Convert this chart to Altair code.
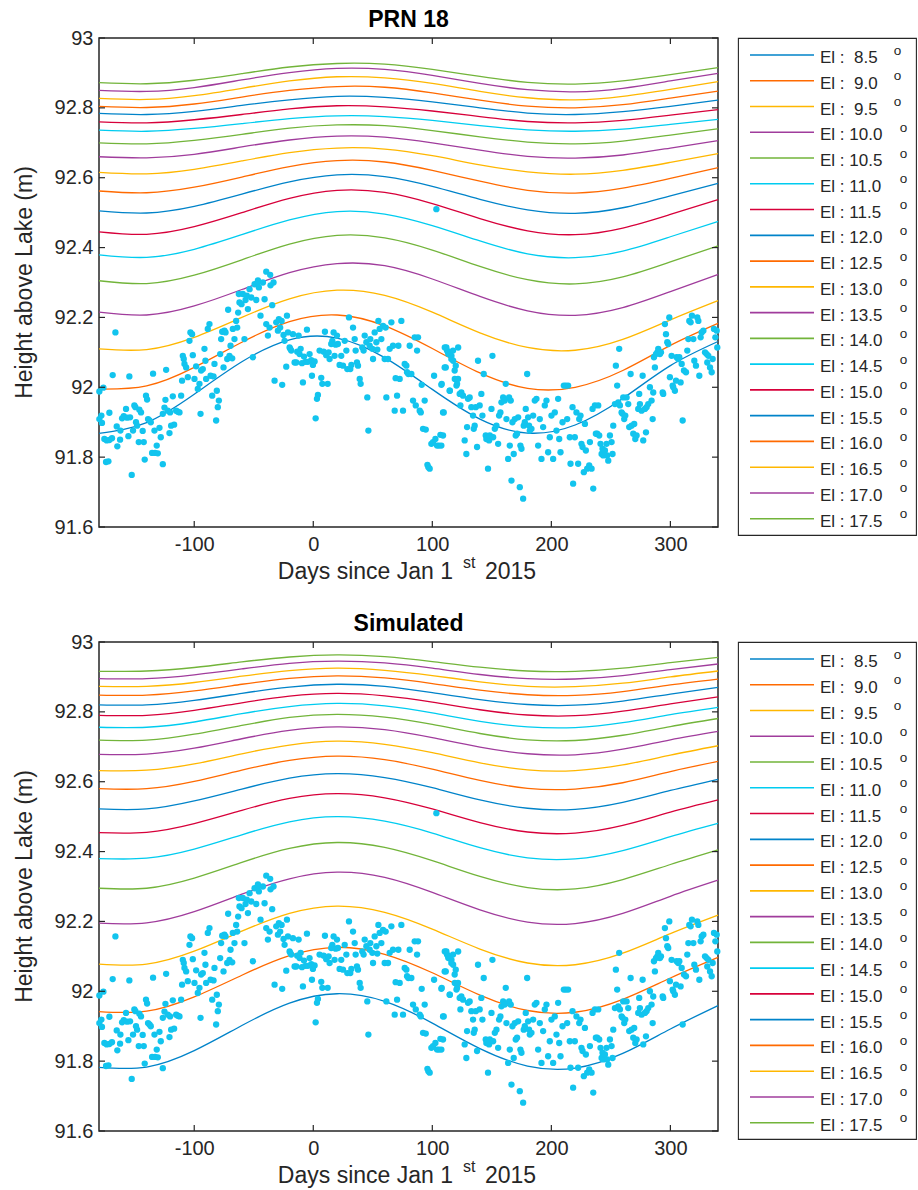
import altair as alt
import pandas as pd

# ---------------- data ----------------
DAYS = [-180, -140, -100, -60, -20, 20, 60, 100, 140, 180, 220, 260, 300, 340]
ELEVATIONS = [8.5, 9.0, 9.5, 10.0, 10.5, 11.0, 11.5, 12.0, 12.5, 13.0,
              13.5, 14.0, 14.5, 15.0, 15.5, 16.0, 16.5, 17.0, 17.5]
LINE_COLORS = ["#0083C9", "#FF6A00", "#FFB700", "#A03C9C", "#72B43A", "#00CCF0", "#D7003A",
               "#0083C9", "#FF6A00", "#FFB700", "#A03C9C", "#72B43A", "#00CCF0", "#D7003A",
               "#0083C9", "#FF6A00", "#FFB700", "#A03C9C", "#72B43A"]
X_TICKS = [-100, 0, 100, 200, 300]
Y_TICKS = [91.6, 91.8, 92.0, 92.2, 92.4, 92.6, 92.8, 93.0]

PRN18_HEIGHTS = [
    [91.868, 91.899, 91.980, 92.073, 92.136, 92.141, 92.085, 91.994, 91.909, 91.869, 91.892, 91.968, 92.062, 92.131],
    [91.995, 92.004, 92.057, 92.129, 92.188, 92.207, 92.176, 92.111, 92.041, 91.997, 92.000, 92.048, 92.120, 92.183],
    [92.110, 92.108, 92.143, 92.200, 92.253, 92.278, 92.263, 92.215, 92.156, 92.114, 92.106, 92.137, 92.193, 92.248],
    [92.215, 92.207, 92.233, 92.280, 92.328, 92.354, 92.348, 92.310, 92.260, 92.219, 92.206, 92.228, 92.274, 92.323],
    [92.305, 92.297, 92.321, 92.365, 92.410, 92.435, 92.428, 92.393, 92.346, 92.308, 92.296, 92.316, 92.359, 92.405],
    [92.379, 92.372, 92.395, 92.437, 92.479, 92.503, 92.496, 92.463, 92.419, 92.382, 92.371, 92.390, 92.431, 92.475],
    [92.445, 92.438, 92.460, 92.500, 92.541, 92.564, 92.558, 92.526, 92.483, 92.448, 92.437, 92.456, 92.495, 92.537],
    [92.505, 92.499, 92.518, 92.553, 92.588, 92.608, 92.603, 92.575, 92.538, 92.508, 92.498, 92.514, 92.548, 92.584],
    [92.562, 92.557, 92.573, 92.602, 92.632, 92.649, 92.645, 92.621, 92.590, 92.564, 92.556, 92.570, 92.598, 92.629],
    [92.615, 92.611, 92.624, 92.648, 92.672, 92.685, 92.682, 92.663, 92.637, 92.617, 92.610, 92.621, 92.644, 92.669],
    [92.660, 92.657, 92.667, 92.688, 92.708, 92.719, 92.716, 92.700, 92.679, 92.661, 92.656, 92.665, 92.685, 92.706],
    [92.700, 92.697, 92.707, 92.724, 92.742, 92.751, 92.749, 92.735, 92.717, 92.702, 92.697, 92.705, 92.722, 92.740],
    [92.736, 92.733, 92.741, 92.755, 92.769, 92.777, 92.775, 92.764, 92.749, 92.737, 92.733, 92.739, 92.753, 92.767],
    [92.760, 92.757, 92.766, 92.781, 92.797, 92.806, 92.803, 92.791, 92.775, 92.761, 92.757, 92.764, 92.779, 92.795],
    [92.784, 92.781, 92.790, 92.807, 92.823, 92.833, 92.830, 92.817, 92.800, 92.785, 92.781, 92.789, 92.804, 92.822],
    [92.804, 92.801, 92.811, 92.831, 92.850, 92.861, 92.859, 92.843, 92.822, 92.805, 92.800, 92.809, 92.828, 92.848],
    [92.827, 92.824, 92.835, 92.856, 92.877, 92.889, 92.886, 92.870, 92.847, 92.829, 92.823, 92.833, 92.853, 92.875],
    [92.850, 92.847, 92.858, 92.880, 92.901, 92.913, 92.910, 92.893, 92.870, 92.852, 92.846, 92.856, 92.877, 92.899],
    [92.872, 92.869, 92.879, 92.898, 92.917, 92.927, 92.925, 92.910, 92.890, 92.873, 92.868, 92.877, 92.895, 92.915],
]

SIM_HEIGHTS = [
    [91.782, 91.783, 91.830, 91.902, 91.966, 91.993, 91.971, 91.909, 91.836, 91.786, 91.780, 91.822, 91.892, 91.959],
    [91.942, 91.943, 91.984, 92.046, 92.102, 92.126, 92.106, 92.053, 91.989, 91.945, 91.940, 91.977, 92.038, 92.097],
    [92.078, 92.078, 92.115, 92.172, 92.223, 92.244, 92.226, 92.178, 92.121, 92.081, 92.076, 92.109, 92.165, 92.218],
    [92.195, 92.196, 92.228, 92.278, 92.322, 92.341, 92.326, 92.283, 92.233, 92.198, 92.194, 92.223, 92.272, 92.318],
    [92.295, 92.295, 92.324, 92.369, 92.409, 92.426, 92.412, 92.374, 92.329, 92.297, 92.293, 92.320, 92.363, 92.405],
    [92.380, 92.381, 92.407, 92.448, 92.485, 92.500, 92.487, 92.453, 92.411, 92.382, 92.379, 92.403, 92.443, 92.481],
    [92.454, 92.455, 92.480, 92.518, 92.552, 92.566, 92.554, 92.522, 92.483, 92.456, 92.453, 92.475, 92.513, 92.548],
    [92.522, 92.522, 92.545, 92.579, 92.610, 92.623, 92.612, 92.583, 92.548, 92.524, 92.521, 92.541, 92.575, 92.607],
    [92.580, 92.580, 92.601, 92.633, 92.661, 92.673, 92.663, 92.636, 92.604, 92.581, 92.579, 92.597, 92.629, 92.658],
    [92.632, 92.633, 92.651, 92.680, 92.705, 92.716, 92.707, 92.683, 92.654, 92.634, 92.632, 92.648, 92.676, 92.703],
    [92.678, 92.679, 92.696, 92.723, 92.747, 92.757, 92.749, 92.726, 92.699, 92.680, 92.677, 92.693, 92.720, 92.744],
    [92.719, 92.719, 92.736, 92.761, 92.784, 92.793, 92.785, 92.764, 92.738, 92.720, 92.718, 92.733, 92.758, 92.781],
    [92.756, 92.756, 92.771, 92.795, 92.815, 92.824, 92.817, 92.797, 92.773, 92.757, 92.755, 92.769, 92.792, 92.813],
    [92.790, 92.790, 92.804, 92.826, 92.845, 92.853, 92.846, 92.828, 92.806, 92.791, 92.789, 92.802, 92.823, 92.843],
    [92.820, 92.820, 92.833, 92.853, 92.871, 92.879, 92.873, 92.855, 92.835, 92.821, 92.819, 92.831, 92.851, 92.870],
    [92.848, 92.848, 92.860, 92.879, 92.896, 92.903, 92.897, 92.881, 92.862, 92.849, 92.847, 92.858, 92.877, 92.894],
    [92.873, 92.873, 92.884, 92.902, 92.918, 92.925, 92.919, 92.904, 92.886, 92.873, 92.872, 92.882, 92.900, 92.917],
    [92.895, 92.895, 92.906, 92.923, 92.939, 92.945, 92.940, 92.925, 92.907, 92.895, 92.894, 92.904, 92.921, 92.937],
    [92.916, 92.917, 92.927, 92.943, 92.957, 92.963, 92.958, 92.944, 92.928, 92.917, 92.916, 92.925, 92.941, 92.956],
]

OBS_DAYS = [
    -179.7, -176.3, -179.7, -178.0, -177.5, -175.5, -173.5, -171.3, -169.1, -174.1,
    -172.1, -171.3, -168.5, -166.2, -165.1, -164.6, -162.3, -162.0, -160.6, -159.2,
    -157.3, -156.4, -155.3, -154.5, -153.9, -152.5, -151.4, -150.3, -149.4, -148.9,
    -148.0, -146.6, -146.1, -144.7, -143.3, -142.4, -141.6, -140.5, -139.6, -138.8,
    -137.6, -136.5, -135.4, -134.6, -133.4, -132.9, -131.5, -130.6, -129.2, -128.1,
    -126.4, -126.4, -125.0, -124.2, -123.6, -122.2, -120.8, -120.3, -119.4, -118.0,
    -116.9, -115.2, -113.8, -112.4, -111.0, -110.2, -109.6, -108.8, -108.2, -106.8,
    -105.4, -104.0, -103.2, -101.8, -101.2, -99.8, -98.4, -97.0, -95.6, -94.7,
    -94.2, -92.8, -91.4, -90.6, -90.0, -88.6, -87.2, -86.3, -84.9, -83.8,
    -83.0, -81.6, -81.0, -80.2, -79.3, -78.2, -77.4, -76.5, -75.4, -74.6,
    -73.7, -72.3, -71.5, -70.4, -69.5, -68.1, -67.6, -66.2, -64.8, -63.9,
    -63.1, -62.5, -62.0, -60.3, -59.2, -57.8, -56.9, -55.8, -54.9, -53.5,
    -52.1, -50.7, -49.3, -47.9, -46.5, -45.7, -44.3, -42.3, -40.9, -39.5,
    -38.1, -36.7, -35.9, -34.5, -33.4, -32.5, -31.1, -29.7, -28.9, -27.8,
    -26.6, -26.1, -25.0, -24.1, -22.7, -22.1, -21.3, -19.9, -19.3, -18.5,
    -17.1, -15.7, -14.3, -13.5, -12.3, -11.5, -10.6, -9.5, -8.7, -7.8,
    -6.4, -5.3, -4.5, -3.1, -1.7, -1.1, -0.3, 1.1, 2.0, 3.1,
    3.9, 5.3, 6.7, 7.6, 8.7, 9.8, 10.9, 12.1, 12.9, 13.7,
    15.1, 16.0, 17.1, 17.9, 18.8, 19.9, 20.7, 22.1, 23.5, 25.0,
    26.4, 27.8, 28.6, 30.0, 31.1, 32.0, 33.4, 34.8, 35.6, 36.7,
    37.6, 39.0, 39.8, 41.2, 42.3, 43.2, 44.6, 45.4, 46.3, 47.4,
    47.9, 49.6, 50.2, 51.6, 53.0, 53.8, 54.7, 55.8, 57.2, 58.6,
    60.0, 60.8, 61.4, 62.8, 64.2, 65.6, 67.0, 68.4, 69.2, 70.4,
    71.5, 72.6, 74.0, 75.4, 76.8, 78.2, 78.8, 79.9, 81.0, 82.4,
    83.8, 85.2, 86.1, 87.2, 88.0, 89.4, 90.3, 91.1, 92.2, 93.6,
    94.5, 95.9, 96.7, 97.8, 99.2, 100.6, 101.5, 102.6, 104.0, 105.7,
    106.8, 107.9, 109.0, 110.5, 111.3, 112.4, 113.5, 114.7, 116.1, 117.5,
    118.9, 120.3, 121.7, -39.5, -36.2, -46.5, 103.4,
    107.6, 109.0, 107.6, 109.6, 110.4, 111.8, 113.2, 114.6, 116.0, 117.4,
    118.8, 119.7, 120.8, 121.6, 123.0, 123.6, 124.4, 125.8, 127.2, 128.6,
    129.2, 130.0, 131.4, 132.8, 134.2, 134.8, 135.6, 136.5, 137.6, 138.4,
    139.8, 141.2, 142.1, 143.2, 144.9, 145.4, 146.8, 147.7, 148.3, 149.7,
    150.5, 151.1, 152.5, 153.9, 155.3, 156.1, 157.2, 158.1, 159.5, 160.9,
    161.7, 162.3, 163.7, 164.5, 165.1, 165.9, 166.5, 167.3, 168.4, 169.3,
    170.1, 171.2, 172.1, 173.5, 174.0, 174.9, 176.3, 176.8, 177.7, 178.5,
    179.7, 180.5, 181.3, 181.9, 183.3, 184.7, 186.1, 187.5, 188.9, 190.3,
    191.7, 193.1, 194.5, 195.9, 197.3, 198.7, 200.1, 201.5, 202.9, 204.3,
    205.7, 206.6, 207.7, 209.4, 210.5, 212.2, 213.3, 214.1, 215.5, 216.1,
    217.8, 218.3, 219.7, 221.1, 222.5, 223.4, 224.5, 225.3, 226.2, 227.3,
    228.2, 229.0, 230.1, 231.8, 232.4, 233.8, 234.6, 235.2, 236.6, 237.4,
    238.5, 239.4, 240.2, 241.3, 242.2, 243.0, 243.6, 245.0, 246.4, 246.9,
    247.8, 249.2, 250.6, 251.4, 252.0, 253.4, 254.2, 255.3, 256.2, 257.0,
    257.6, 259.0, 259.8, 260.4, 261.2, 262.1, 263.2, 264.6, 265.4, 266.6,
    267.4, 268.8, 269.6, 270.5, 271.6, 273.0, 273.8, 274.4, 275.8, 276.7,
    277.2, 278.6, 279.5, 280.0, 281.4, 282.8, 284.2, 285.1, 285.6, 286.2,
    287.0, 287.9, 289.0, 289.8, 291.2, 292.1, 293.5, 294.0, 295.4, 296.3,
    297.4, 298.2, 299.1, 299.6, 301.0, 301.9, 302.4, 303.8, 304.7, 305.2,
    306.6, 307.5, 308.6, 309.5, 310.3, 311.4, 313.1, 314.2, 315.1, 315.9,
    317.0, 318.1, 319.3, 320.1, 321.5, 322.6, 323.5, 324.3, 325.4, 326.3,
    327.7, 329.1, 330.5, 331.0, 331.9, 333.3, 334.7, 335.5, 336.6, 337.8,
    338.9, 339.4,
]

OBS_HEIGHTS = [
    91.988, 91.999, 91.909, 91.919, 91.898, 91.852, 91.848, 91.849, 91.854, 91.786,
    91.788, 91.927, 92.035, 92.157, 91.888, 91.831, 91.850, 91.876, 91.911, 91.917,
    91.938, 91.913, 91.860, 92.031, 91.914, 91.749, 91.876, 91.948, 91.943, 91.900,
    91.890, 91.843, 91.936, 91.928, 91.875, 91.843, 91.793, 91.976, 91.965, 91.909,
    91.905, 91.900, 91.812, 92.039, 91.876, 91.812, 91.833, 91.811, 91.884, 91.857,
    91.780, 91.924, 91.942, 91.964, 92.050, 91.933, 91.869, 91.928, 91.890, 91.974,
    91.893, 91.933, 91.930, 91.928, 91.976, 92.019, 92.090, 92.081, 92.067, 92.057,
    92.029, 92.133, 92.157, 92.152, 92.092, 92.024, 92.060, 91.995, 92.010, 91.924,
    92.048, 92.052, 92.110, 92.076, 92.024, 92.167, 92.181, 92.033, 91.976, 92.031,
    92.067, 91.905, 91.990, 91.943, 91.962, 92.095, 92.138, 92.159, 92.057, 92.162,
    92.157, 92.081, 92.222, 92.090, 92.119, 92.083, 92.167, 92.138, 92.190, 92.171,
    92.214, 92.267, 92.243, 92.238, 92.267, 92.138, 92.250, 92.262, 92.224, 92.281,
    92.257, 92.086, 92.295, 92.250, 92.300, 92.286, 92.205, 92.300, 92.252, 92.181,
    92.148, 92.171, 92.292, 92.235, 92.300, 92.019, 92.186, 92.162, 92.195, 92.171,
    92.190, 92.007, 92.150, 92.133, 92.059, 92.205, 92.157, 92.114, 92.110, 92.105,
    92.152, 92.071, 92.071, 92.102, 92.148, 92.095, 92.110, 92.069, 92.014, 92.088,
    92.073, 92.165, 92.073, 92.095, 92.078, 92.033, 92.064, 92.074, 91.911, 91.967,
    91.978, 92.105, 92.027, 92.010, 92.102, 92.159, 92.092, 92.010, 92.100, 92.081,
    92.124, 92.133, 92.157, 92.090, 92.122, 92.148, 92.124, 92.064, 92.090, 92.062,
    92.133, 92.105, 92.052, 92.200, 92.052, 92.064, 92.171, 92.138, 92.105, 92.071,
    92.062, 92.024, 92.010, 92.114, 92.105, 92.148, 92.129, 91.971, 91.876, 92.119,
    92.138, 92.110, 92.081, 92.157, 92.129, 92.108, 92.190, 92.167, 92.138, 92.176,
    92.081, 92.171, 91.971, 92.081, 92.110, 92.186, 92.119, 91.933, 92.026, 91.976,
    92.119, 92.024, 92.190, 91.933, 92.067, 92.062, 92.043, 92.038, 92.119, 92.038,
    91.962, 92.143, 91.948, 92.105, 92.143, 91.933, 91.928, 92.007, 91.881, 91.962,
    91.879, 91.778, 91.771, 91.767, 91.838, 91.843, 92.033, 91.852, 91.833, 91.833,
    91.864, 92.010, 91.928, 92.114, 92.057, 92.105, 92.095, 91.990, 92.090, 92.076,
    92.024, 92.005, 92.114, 92.331, 92.322, 92.306, 92.510,
    92.007, 91.862, 91.833, 91.928, 92.057, 92.114, 92.100, 91.990, 92.081, 92.105,
    92.048, 92.062, 92.010, 92.024, 91.981, 91.948, 91.985, 91.976, 91.848, 91.809,
    91.886, 91.967, 91.971, 91.943, 91.919, 91.881, 91.890, 91.943, 91.829, 92.076,
    91.948, 91.981, 91.919, 92.038, 91.862, 91.852, 91.767, 91.848, 91.862, 91.938,
    92.090, 91.857, 91.881, 91.890, 91.838, 91.919, 91.928, 91.957, 91.971, 91.962,
    92.010, 91.909, 91.795, 91.971, 91.833, 91.962, 91.733, 91.900, 91.809, 91.909,
    91.862, 91.867, 91.914, 91.714, 91.833, 91.824, 91.681, 91.890, 91.900, 91.938,
    92.038, 91.914, 91.890, 91.876, 91.881, 91.919, 91.962, 91.967, 91.833, 91.909,
    91.795, 91.886, 91.948, 91.962, 91.814, 91.857, 91.919, 91.795, 91.928, 91.876,
    91.967, 91.852, 91.814, 91.900, 92.005, 92.005, 91.909, 92.005, 91.857, 91.781,
    91.943, 91.724, 91.857, 91.928, 91.781, 91.909, 91.919, 91.838, 91.829, 91.757,
    91.895, 91.819, 91.767, 91.776, 91.843, 91.767, 91.938, 91.710, 91.948, 91.867,
    91.867, 91.948, 91.862, 91.838, 91.809, 91.824, 91.805, 91.819, 91.838, 91.805,
    91.790, 91.862, 91.843, 91.809, 91.890, 91.952, 92.062, 92.005, 91.957, 92.110,
    91.948, 91.928, 91.924, 91.971, 91.909, 91.919, 91.971, 91.952, 91.886, 92.038,
    91.890, 91.867, 91.895, 91.852, 91.862, 91.938, 91.981, 91.952, 91.933, 92.033,
    91.848, 91.938, 91.871, 91.943, 91.952, 92.000, 91.962, 91.909, 91.985, 92.086,
    92.057, 92.095, 92.100, 92.110, 92.095, 92.100, 91.985, 91.981, 92.181, 92.152,
    92.129, 92.124, 92.200, 92.029, 92.090, 92.005, 92.000, 91.990, 92.019, 92.086,
    92.081, 92.086, 92.014, 92.067, 91.905, 92.048, 92.043, 92.105, 92.138, 92.190,
    92.186, 92.205, 92.138, 92.076, 92.062, 92.200, 92.190, 92.033, 92.143, 92.157,
    92.162, 92.100, 92.095, 92.071, 92.090, 92.057, 92.043, 92.081, 92.167, 92.143,
    92.162, 92.114,
]

# ---------------- styling ----------------
FONT = "Liberation Sans"
AX = "#262626"
DOT = "#12C4EE"
W, H = 619, 489
LW, LH = 178, 497

EL_LABELS = [f"{e:.1f}" for e in ELEVATIONS]
obs_df = pd.DataFrame({"day": OBS_DAYS, "height": OBS_HEIGHTS})
leg_df = pd.DataFrame({
    "row": list(range(len(ELEVATIONS))),
    "el": EL_LABELS,
    "elv": ELEVATIONS,
    "label": [("El :\u00a0\u00a0" if e < 10 else "El : ") + f"{e:.1f}" for e in ELEVATIONS],
})
one = pd.DataFrame({"k": [0]})
xt_df = pd.DataFrame({"v": X_TICKS})
yt_df = pd.DataFrame({"v": Y_TICKS})

xs = alt.Scale(domain=[-180, 340], nice=False, zero=False)
ys = alt.Scale(domain=[91.6, 93.0], nice=False, zero=False)
color = alt.Color("el:N", scale=alt.Scale(domain=EL_LABELS, range=LINE_COLORS), legend=None)
txt = dict(font=FONT, color=AX)


def make_panel(title, heights):
    recs = []
    for e, row in zip(EL_LABELS, heights):
        for d, h in zip(DAYS, row):
            recs.append({"day": d, "height": h, "el": e})
    line_df = pd.DataFrame(recs)

    x_axis = alt.Axis(values=X_TICKS, format="d", labelExpr="replace(datum.label, '\u2212', '-')",
                      title=None, grid=False, ticks=False, domain=False, labelFontSize=20,
                      labelPadding=7, labelFont=FONT, labelColor=AX)
    y_axis = alt.Axis(values=Y_TICKS, format="~g", title=None, grid=False,
                      ticks=False, domain=False, labelFontSize=20, labelPadding=6,
                      labelFont=FONT, labelColor=AX)

    lines = alt.Chart(line_df).mark_line(strokeWidth=1.3, interpolate="natural").encode(
        x=alt.X("day:Q", scale=xs, axis=x_axis),
        y=alt.Y("height:Q", scale=ys, axis=y_axis),
        color=color,
    )
    points = alt.Chart(obs_df).mark_circle(size=40, opacity=1, color=DOT).encode(
        x=alt.X("day:Q", scale=xs),
        y=alt.Y("height:Q", scale=ys),
    )
    tick_style = dict(color=AX, strokeWidth=1.2)
    t_bottom = alt.Chart(xt_df).mark_rule(**tick_style).encode(
        x=alt.X("v:Q", scale=xs), y=alt.value(H), y2=alt.value(H - 6))
    t_top = alt.Chart(xt_df).mark_rule(**tick_style).encode(
        x=alt.X("v:Q", scale=xs), y=alt.value(0), y2=alt.value(6))
    t_left = alt.Chart(yt_df).mark_rule(**tick_style).encode(
        y=alt.Y("v:Q", scale=ys), x=alt.value(0), x2=alt.value(6))
    t_right = alt.Chart(yt_df).mark_rule(**tick_style).encode(
        y=alt.Y("v:Q", scale=ys), x=alt.value(W - 6), x2=alt.value(W))

    title_t = alt.Chart(one).mark_text(text=title, fontSize=23, fontWeight="bold", align="center",
                                       baseline="alphabetic", font=FONT, color="black").encode(
        x=alt.value(W / 2), y=alt.value(-11))
    xt1 = alt.Chart(one).mark_text(text="Days since Jan 1", fontSize=23, align="right",
                                   baseline="alphabetic", **txt).encode(x=alt.value(354), y=alt.value(541))
    xt2 = alt.Chart(one).mark_text(text="st", fontSize=16, align="left",
                                   baseline="alphabetic", **txt).encode(x=alt.value(364), y=alt.value(530))
    xt3 = alt.Chart(one).mark_text(text="2015", fontSize=23, align="left",
                                   baseline="alphabetic", **txt).encode(x=alt.value(386), y=alt.value(541))
    yt = alt.Chart(one).mark_text(text="Height above Lake (m)", fontSize=23, align="center",
                                  baseline="alphabetic", angle=270, **txt).encode(
        x=alt.value(-67), y=alt.value(H / 2))

    panel = alt.layer(lines, points, t_bottom, t_top, t_left, t_right,
                      title_t, xt1, xt2, xt3, yt).properties(width=W, height=H)

    leg_y = alt.Y("row:Q", scale=alt.Scale(domain=[0, 18], range=[17, 480.7]), axis=None)
    leg_lines = alt.Chart(leg_df).mark_rule(strokeWidth=1.6).encode(
        x=alt.value(12), x2=alt.value(76), y=leg_y, color=color)
    leg_text = alt.Chart(leg_df).mark_text(fontSize=17, align="left", baseline="alphabetic",
                                           dy=8, **txt).encode(
        x=alt.value(82), y=leg_y, text="label:N")
    deg_a = alt.Chart(leg_df).transform_filter(alt.datum.elv < 10).mark_text(
        text="o", fontSize=13.5, align="center", baseline="middle", dy=-4.5, **txt).encode(
        x=alt.value(159.5), y=leg_y)
    deg_b = alt.Chart(leg_df).transform_filter(alt.datum.elv >= 10).mark_text(
        text="o", fontSize=13.5, align="center", baseline="middle", dy=-4.5, **txt).encode(
        x=alt.value(165.5), y=leg_y)
    legend = alt.layer(leg_lines, leg_text, deg_a, deg_b).properties(
        width=LW, height=LH, view=alt.ViewBackground(stroke=AX, strokeWidth=1.1))

    return alt.hconcat(panel, legend, spacing=20, bounds="flush")


p1 = make_panel("PRN 18", PRN18_HEIGHTS)
p2 = make_panel("Simulated", SIM_HEIGHTS)

chart = alt.vconcat(p1, p2, spacing=27).properties(
    padding={"left": 13, "top": 8, "right": 0, "bottom": 0},
    background="white",
).configure_view(stroke=AX, strokeWidth=1.5)

chart.save("out.html", embed_options={"renderer": "svg", "actions": False})
